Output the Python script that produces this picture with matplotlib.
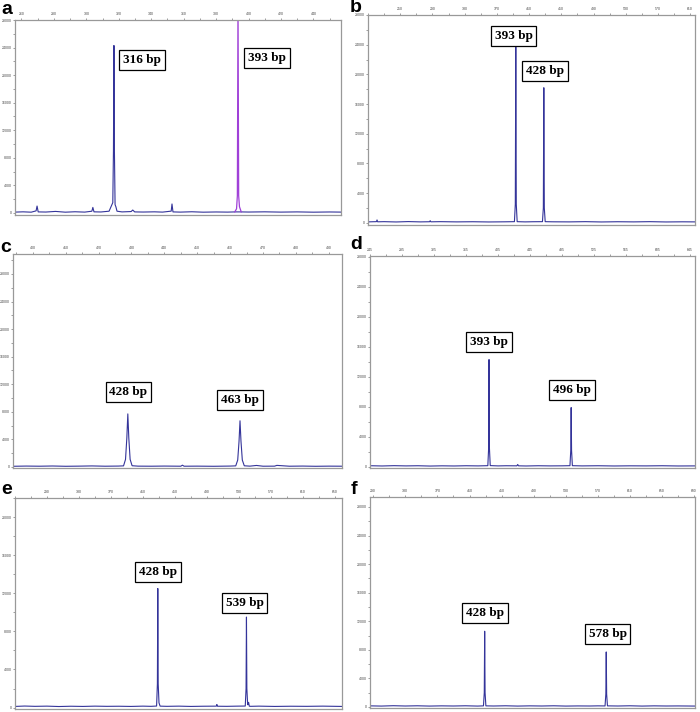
import matplotlib.pyplot as plt
from matplotlib.ticker import AutoMinorLocator

plt.rcParams['font.family'] = ['Liberation Sans', 'DejaVu Sans']

# capillary electrophoresis traces: fragment size (bp) vs signal (RFU)
A_BP = [256, 261, 266, 269.0, 269.6, 270.3, 275, 281, 287, 293, 299, 303.4, 304.0, 304.7,
        309, 314, 316.3, 316.7, 317.0, 317.3, 317.7, 318.2, 318.9, 322, 327.6, 328.6, 329.8,
        335, 342, 347, 352.3, 352.8, 353.4, 358, 365, 372, 380, 387, 392, 395, 400, 410,
        420, 430, 440, 450, 457]
A_RFU = [120, 160, 110, 300, 1000, 150, 130, 220, 110, 170, 120, 250, 800, 160,
         140, 250, 1500, 9000, 24300, 9000, 1200, 900, 250, 150, 200, 420, 150,
         130, 160, 120, 260, 1300, 150, 120, 170, 110, 140, 120, 150, 150, 130, 160,
         120, 150, 110, 140, 120]
# second dye channel in panel a
A2_BP = [391.5, 392.6, 393.1, 393.5, 393.9, 394.4, 395.5]
A2_RFU = [150, 600, 2500, 31000, 2500, 900, 150]

B_BP = [210, 216, 220.5, 221.2, 222, 230, 245, 260, 275, 286.5, 287.2, 288, 300, 320, 340,
        360, 380, 391.8, 392.9, 393.5, 394.1, 395.2, 405, 415, 426.6, 427.7, 428.3, 428.9,
        430, 440, 460, 480, 500, 520, 540, 560, 580, 600, 616]
B_RFU = [120, 140, 150, 380, 130, 150, 110, 160, 120, 140, 280, 130, 150, 120, 140,
         110, 130, 150, 2500, 23700, 2500, 150, 120, 140, 150, 2000, 18200, 2000,
         150, 130, 120, 150, 110, 140, 120, 150, 110, 130, 120]

C_BP = [394, 398, 402, 406, 410, 414, 418, 422, 426, 427.6, 428.2, 428.6, 428.9, 429.2,
        429.6, 430.2, 432, 436, 440, 445.0, 445.5, 446.0, 450, 455, 460, 461.7, 462.3,
        462.7, 463.0, 463.3, 463.7, 464.3, 466, 468, 470, 473.5, 474.2, 478, 482, 486,
        490, 494]
C_RFU = [100, 130, 110, 140, 100, 120, 150, 110, 130, 160, 1100, 4200, 7700, 4200,
         1100, 180, 120, 110, 130, 110, 260, 110, 120, 100, 130, 160, 1000,
         3700, 6700, 3700, 1000, 170, 120, 220, 110, 120, 230, 110, 130, 100,
         120, 110]

D_BP = [247, 260, 275, 290, 305, 320, 335, 350, 365, 380, 392.2, 393.2, 393.7, 394.2,
        395.2, 405, 415, 428.5, 429.5, 430.5, 440, 455, 470, 485, 494.8, 495.8, 496.3,
        496.8, 497.8, 510, 530, 550, 570, 590, 610, 630, 651]
D_RFU = [150, 120, 160, 130, 150, 110, 140, 120, 150, 130, 160, 2500, 14300, 2500,
         170, 130, 150, 140, 320, 140, 120, 150, 130, 140, 160, 2200, 7900,
         2200, 160, 130, 150, 120, 140, 130, 150, 120, 130]

E_BP = [250, 262, 275, 290, 305, 320, 335, 350, 365, 380, 395, 410, 420, 427.1, 428.1,
        428.6, 429.1, 430.1, 431.5, 440, 455, 470, 485, 501.8, 502.5, 503.2, 515, 528,
        538.0, 539.0, 539.5, 540.0, 541.0, 542.2, 543.0, 544.5, 555, 575, 595, 615, 635, 659]
E_RFU = [120, 160, 130, 150, 110, 140, 120, 150, 130, 140, 120, 150, 130, 160, 2500,
         12500, 2500, 500, 150, 130, 150, 120, 140, 150, 320, 140, 130, 150,
         160, 2000, 9500, 2000, 300, 550, 150, 130, 150, 120, 140, 130, 150, 120]

F_BP = [286, 300, 315, 330, 345, 360, 375, 390, 405, 420, 427.4, 428.4, 428.9, 429.4,
        430.4, 440, 455, 470, 485, 500, 515, 530, 545, 560, 570, 578.9, 579.9, 580.4,
        580.9, 581.9, 595, 610, 625, 640, 655, 670, 691]
F_RFU = [150, 120, 170, 130, 160, 120, 150, 130, 160, 120, 150, 2000, 10600, 2000,
         150, 130, 160, 120, 150, 130, 160, 120, 140, 130, 150, 140, 1800, 7700,
         1800, 150, 130, 160, 120, 150, 130, 140, 120]

# top-axis size ticks
A_XT = [260, 280, 300, 320, 340, 360, 380, 400, 420, 440]
B_XT = [250, 290, 330, 370, 410, 450, 490, 530, 570, 610]
C_XT = [400, 410, 420, 430, 440, 450, 460, 470, 480, 490]
D_XT = [245, 285, 325, 365, 405, 445, 485, 525, 565, 605, 645]
E_XT = [290, 330, 370, 410, 450, 490, 530, 570, 610, 650]
F_XT = [290, 330, 370, 410, 450, 490, 530, 570, 610, 650, 690]

# peak call labels: text, bp, rfu
A_LAB = [("316 bp", 334.3, 22260), ("393 bp", 411.4, 22540)]
B_LAB = [("393 bp", 390.7, 25200), ("428 bp", 429.9, 20400)]
C_LAB = [("428 bp", 429.1, 10870), ("463 bp", 463.0, 9710)]
D_LAB = [("393 bp", 393.7, 16600), ("496 bp", 497.0, 10200)]
E_LAB = [("428 bp", 428.8, 14260), ("539 bp", 537.0, 10970)]
F_LAB = [("428 bp", 428.9, 13150), ("578 bp", 582.0, 10160)]

TRACE = "#34349a"
DYE2 = "#a040d8"
W, H = 700, 712

fig = plt.figure(figsize=(W / 100, H / 100), dpi=100)


def panel(box, letter, letter_xy, bp, rfu, xlim, ylim, xticks, labels):
    x0, y0, x1, y1 = box
    ax = fig.add_axes([x0 / W, 1 - y1 / H, (x1 - x0) / W, (y1 - y0) / H])
    ax.plot(bp, rfu, color=TRACE, lw=0.8)
    ax.set_xlim(*xlim)
    ax.set_ylim(*ylim)
    ax.xaxis.tick_top()
    ax.set_xticks(xticks, [str(t) for t in xticks])
    yt = list(range(0, int(ylim[1]) + 1, 4000))
    ax.set_yticks(yt, [str(t) for t in yt])
    ax.xaxis.set_minor_locator(AutoMinorLocator(2))
    ax.yaxis.set_minor_locator(AutoMinorLocator(2))
    ax.tick_params(which="both", direction="out", width=0.5, color="#777777",
                   labelsize=2.5, labelcolor="#444444", pad=0.8)
    ax.tick_params(which="major", length=1.8)
    ax.tick_params(which="minor", length=1.2)
    for s in ax.spines.values():
        s.set_color("#999999")
        s.set_linewidth(0.9)
    for txt, x, y in labels:
        ax.text(x, y, txt, ha="center", va="center", family="Liberation Serif",
                weight="bold", size=9.5,
                bbox=dict(boxstyle="square,pad=0.3", fc="white", ec="black", lw=0.9))
    fig.text(letter_xy[0] / W, 1 - letter_xy[1] / H, letter, weight="bold",
             size=14, va="baseline", ha="left")
    return ax


ax_a = panel((15, 20, 341, 215), "a", (1, 14), A_BP, A_RFU, (256, 457), (-300, 28000), A_XT, A_LAB)
ax_a.plot(A2_BP, A2_RFU, color=DYE2, lw=0.9)
panel((368, 15, 695, 225), "b", (350, 12), B_BP, B_RFU, (210, 616), (-300, 28000), B_XT, B_LAB)
panel((13, 254, 342, 468), "c", (0, 252), C_BP, C_RFU, (394, 494), (-150, 30900), C_XT, C_LAB)
panel((370, 256, 695, 468), "d", (350, 249), D_BP, D_RFU, (247, 651), (-150, 28100), D_XT, D_LAB)
panel((15, 498, 342, 709), "e", (1, 494), E_BP, E_RFU, (250, 659), (-150, 22000), E_XT, E_LAB)
panel((370, 497, 695, 708), "f", (351, 494), F_BP, F_RFU, (286, 691), (-150, 29400), F_XT, F_LAB)

fig.savefig("out.png", dpi=100)
